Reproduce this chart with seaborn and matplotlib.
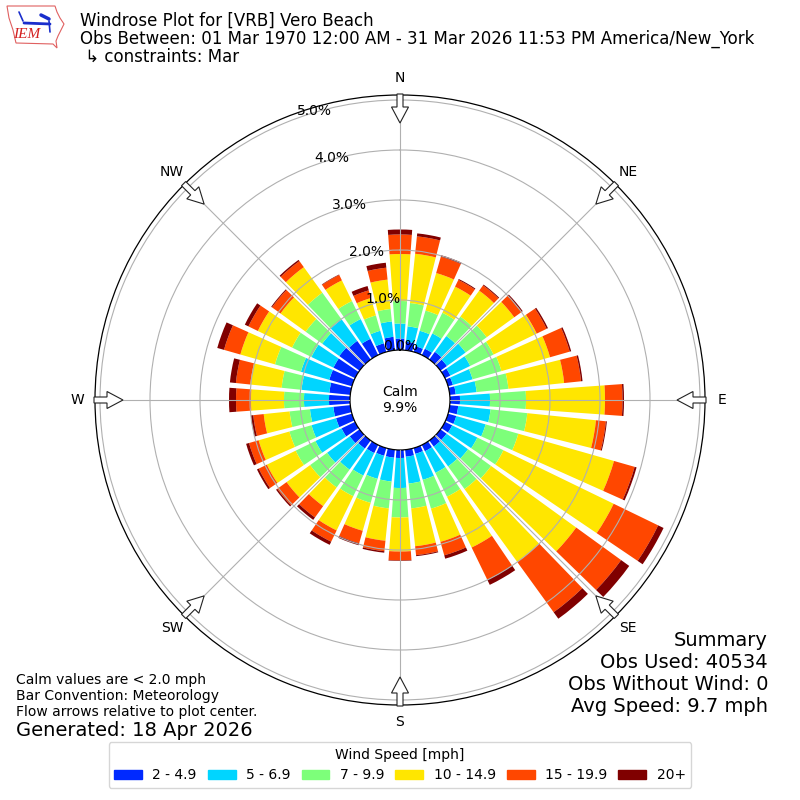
import numpy as np
import matplotlib
matplotlib.use("Agg")
import matplotlib.pyplot as plt
from matplotlib.patches import FancyArrow, Patch, Polygon
from matplotlib.lines import Line2D
import seaborn as sns

sns.set_style("white")
plt.rcParams['font.family'] = ['DejaVu Sans']
plt.rcParams['text.color'] = 'black'
plt.rcParams['xtick.color'] = 'black'
plt.rcParams['ytick.color'] = 'black'

# ---------------- data ----------------
directions = list(range(0, 360, 10))  # compass degrees
speed_bins = ["2 - 4.9", "5 - 6.9", "7 - 9.9", "10 - 14.9", "15 - 19.9", "20+"]

# percent frequency per direction for each speed bin
bin_2_5 = [0.23, 0.17, 0.12, 0.14, 0.19, 0.16, 0.12, 0.10, 0.12, 0.20, 0.17, 0.17,
           0.16, 0.15, 0.15, 0.14, 0.12, 0.14, 0.16, 0.16, 0.16, 0.18, 0.20, 0.24,
           0.30, 0.33, 0.34, 0.42, 0.42, 0.47, 0.48, 0.50, 0.46, 0.36, 0.18, 0.27]
bin_5_7 = [0.30, 0.31, 0.32, 0.34, 0.39, 0.46, 0.44, 0.41, 0.42, 0.60, 0.65, 0.61,
           0.56, 0.53, 0.49, 0.48, 0.54, 0.54, 0.60, 0.48, 0.48, 0.50, 0.52, 0.56,
           0.58, 0.51, 0.47, 0.50, 0.56, 0.59, 0.49, 0.42, 0.53, 0.44, 0.26, 0.31]
bin_7_10 = [0.45, 0.47, 0.42, 0.46, 0.48, 0.52, 0.52, 0.60, 0.64, 0.72, 0.74, 0.68,
            0.58, 0.57, 0.56, 0.53, 0.60, 0.50, 0.59, 0.54, 0.50, 0.46, 0.44, 0.42,
            0.44, 0.46, 0.41, 0.40, 0.40, 0.54, 0.43, 0.41, 0.66, 0.40, 0.32, 0.25]
bin_10_15 = [0.94, 0.99, 0.78, 0.58, 0.64, 0.68, 0.96, 1.01, 1.12, 1.58, 1.38, 1.99,
             2.45, 2.10, 1.80, 1.13, 0.69, 0.76, 0.68, 0.65, 0.58, 0.76, 0.46, 0.58,
             0.64, 0.64, 0.52, 0.66, 0.63, 0.72, 0.76, 0.62, 0.63, 0.46, 0.36, 0.59]
bin_15_20 = [0.39, 0.35, 0.34, 0.15, 0.13, 0.18, 0.22, 0.41, 0.34, 0.35, 0.20, 0.43,
             0.99, 1.11, 1.24, 0.72, 0.28, 0.18, 0.18, 0.21, 0.26, 0.25, 0.28, 0.23,
             0.18, 0.20, 0.21, 0.30, 0.29, 0.34, 0.21, 0.21, 0.15, 0.12, 0.16, 0.24]
bin_20p = [0.10, 0.06, 0.03, 0.02, 0.02, 0.03, 0.03, 0.03, 0.03, 0.03, 0.02, 0.04,
           0.12, 0.20, 0.16, 0.11, 0.07, 0.02, 0.01, 0.03, 0.04, 0.07, 0.06, 0.03,
           0.04, 0.06, 0.05, 0.14, 0.12, 0.14, 0.08, 0.02, 0.03, 0.01, 0.09, 0.10]

series = [bin_2_5, bin_5_7, bin_7_10, bin_10_15, bin_15_20, bin_20p]

r_ticks = [0, 1, 2, 3, 4, 5]
compass_labels = ["N", "NE", "E", "SE", "S", "SW", "W", "NW"]
calm_pct = 9.9

title_lines = ["Windrose Plot for [VRB] Vero Beach",
               "Obs Between: 01 Mar 1970 12:00 AM - 31 Mar 2026 11:53 PM America/New_York",
               " \u21b3 constraints: Mar"]
left_notes = ["Calm values are < 2.0 mph", "Bar Convention: Meteorology",
              "Flow arrows relative to plot center."]
generated = "Generated: 18 Apr 2026"
summary = ["Summary", "Obs Used: 40534", "Obs Without Wind: 0", "Avg Speed: 9.7 mph"]

# ---------------- figure ----------------
cmap = plt.get_cmap("jet")
colors = sns.color_palette([cmap(v) for v in np.linspace(1 / 6, 1, 6)])

fig = plt.figure(figsize=(8, 8), dpi=100)
ax = fig.add_axes([95 / 800, 95 / 800, 610 / 800, 610 / 800], projection="polar")
ax.set_theta_zero_location("N")
ax.set_theta_direction(-1)
ax.set_rorigin(-1.0)
ax.set_ylim(0, 5.1)

theta = np.deg2rad(directions)
width = np.deg2rad(8.2)
bottom = np.zeros(len(directions))
for vals, col, lab in zip(series, colors, speed_bins):
    vals = np.array(vals)
    ax.bar(theta, vals, width=width, bottom=bottom, color=col, linewidth=0,
           label=lab, zorder=1)
    bottom = bottom + vals

ax.set_axisbelow(False)
ax.set_yticks(r_ticks[1:])
ax.set_yticklabels([])
ax.set_xticks(np.deg2rad(np.arange(0, 360, 45)))
ax.set_xticklabels(compass_labels, fontsize=10)
ax.tick_params(axis="x", pad=2)
ax.grid(True, color="#b0b0b0", linewidth=0.8)
for name in ("polar", "inner"):
    if name in ax.spines:
        ax.spines[name].set_color("black")
        ax.spines[name].set_linewidth(0.9)

for v in r_ticks:
    ax.text(np.deg2rad(340), v, f"{v:.1f}%", ha="left", va="bottom", fontsize=10,
            zorder=5, clip_on=False)

fig.text(0.5, 0.5, f"Calm\n{calm_pct:.1f}%", ha="center", va="center", fontsize=10)

# flow arrows
for a in np.arange(0, 360, 45):
    u = np.array([np.sin(np.deg2rad(a)), np.cos(np.deg2rad(a))])
    tail = np.array([0.5, 0.5]) + 306 / 800 * u
    d = -29 / 800 * u
    arr = FancyArrow(tail[0], tail[1], d[0], d[1], width=6 / 800,
                     head_width=17 / 800, head_length=16 / 800,
                     length_includes_head=True, fc="white", ec="#222222",
                     lw=0.8, transform=fig.transFigure, zorder=10)
    fig.add_artist(arr)

# title text
fig.text(80 / 800, 1 - 25.3 / 800, title_lines[0], fontsize=12, va="baseline")
fig.text(80 / 800, 1 - 43.3 / 800, title_lines[1], fontsize=12, va="baseline")
fig.text(80 / 800, 1 - 61.7 / 800, title_lines[2], fontsize=12, va="baseline")

# simple logo
iowa = [(7, 6), (55, 6), (57, 12), (60, 18), (64, 24), (61, 30), (58, 36),
        (56, 41), (57, 48), (53, 44), (16, 43), (13, 30), (9, 18)]
logo = Polygon([(x / 800, 1 - y / 800) for x, y in iowa], closed=True,
               fc="none", ec="#e06060", lw=0.8, transform=fig.transFigure)
fig.add_artist(logo)
fig.add_artist(Line2D([24 / 800, 50 / 800], [1 - 23 / 800, 1 - 24 / 800],
                      color="#1a2ecc", lw=2, transform=fig.transFigure))
fig.add_artist(Line2D([19 / 800, 23 / 800], [1 - 12 / 800, 1 - 21 / 800],
                      color="#1a2ecc", lw=1.2, transform=fig.transFigure))
fig.add_artist(Line2D([41 / 800, 49 / 800], [1 - 15 / 800, 1 - 19 / 800],
                      color="#1a2ecc", lw=2.5, transform=fig.transFigure))
fig.add_artist(Line2D([49 / 800, 50 / 800], [1 - 21 / 800, 1 - 32 / 800],
                      color="#1a2ecc", lw=1.2, transform=fig.transFigure))
fig.text(27 / 800, 1 - 34 / 800, "IEM", fontsize=11, color="#d42020",
         family="Liberation Serif", style="italic", ha="center", va="center")

# bottom-left notes
for i, t in enumerate(left_notes):
    fig.text(16 / 800, 1 - (680 + 16 * i) / 800, t, fontsize=10, va="center")
fig.text(16 / 800, 1 - 730 / 800, generated, fontsize=14, va="center")

# summary
for i, t in enumerate(summary):
    fig.text(768 / 800, 1 - (640 + 22 * i) / 800, t, fontsize=14, va="center",
             ha="right")

handles = [Patch(color=c, label=l) for c, l in zip(colors, speed_bins)]
leg = fig.legend(handles=handles, ncol=6, loc="lower center",
                 bbox_to_anchor=(0.5, 0.015), title="Wind Speed [mph]",
                 fontsize=10, title_fontsize=10, frameon=True, borderaxespad=0,
                 columnspacing=0.8, handletextpad=0.75)
leg.get_frame().set_edgecolor("#cccccc")

fig.savefig("out.png", dpi=100)
